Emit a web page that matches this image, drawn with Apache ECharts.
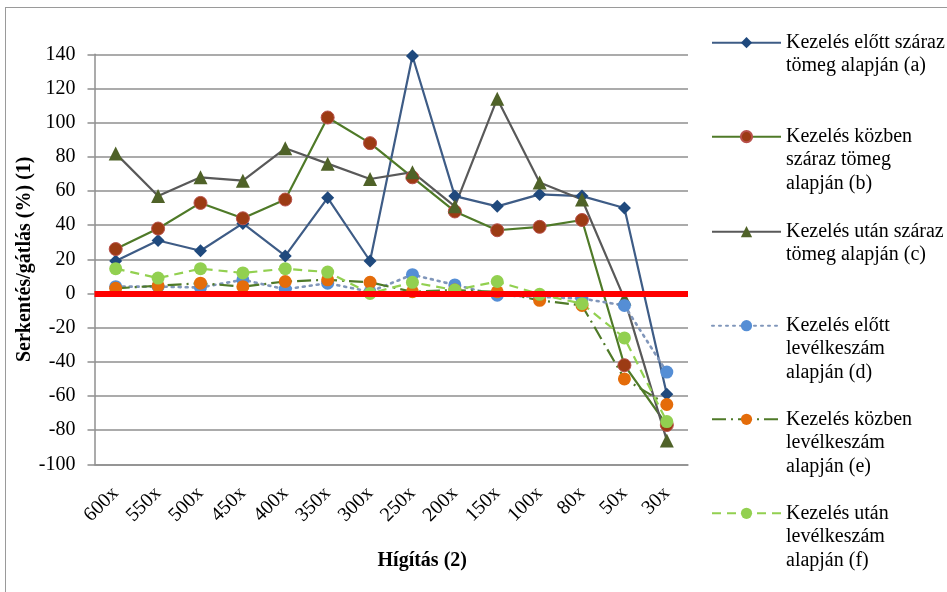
<!DOCTYPE html>
<html>
<head>
<meta charset="utf-8">
<script src="https://cdn.jsdelivr.net/npm/echarts@6/dist/echarts.min.js"></script>
<style>
html,body{margin:0;padding:0;background:#fff;}
#chart{width:947px;height:592px;position:relative;}
#frame{position:absolute;left:5px;top:7px;width:1000px;height:1000px;border-left:1.5px solid #9a9a9a;border-top:1.5px solid #9a9a9a;pointer-events:none;}
</style>
</head>
<body>
<div id="chart"></div>
<div id="frame"></div>
<script>
const categories = ['600x','550x','500x','450x','400x','350x','300x','250x','200x','150x','100x','80x','50x','30x'];
const seriesNames = [
  'Kezelés előtt száraz\ntömeg alapján (a)',
  'Kezelés közben\nszáraz tömeg\nalapján (b)',
  'Kezelés után száraz\ntömeg alapján (c)',
  'Kezelés előtt\nlevélkeszám\nalapján (d)',
  'Kezelés közben\nlevélkeszám\nalapján (e)',
  'Kezelés után\nlevélkeszám\nalapján (f)'
];
const valuesA = [19, 31, 25, 41, 22, 56, 19, 139, 57, 51, 58, 57, 50, -59];
const valuesB = [26, 38, 53, 44, 55, 103, 88, 68, 48, 37, 39, 43, -42, -77];
const valuesC = [82, 57, 68, 66, 85, 76, 67, 71, 51, 114, 65, 55, -3, -86];
const valuesD = [4, 4, 3.5, 8, 2.5, 6, 1, 11, 5, -1, -2, -3, -7, -46];
const valuesE = [3, 4.5, 6, 4, 7, 8, 6.5, 1, 2, 1, -4, -7, -50, -65];
const valuesF = [14.5, 9, 14.5, 12, 14.5, 12.5, 0, 6.5, 2, 7, -0.5, -6, -26, -75];
const yTicks = {min: -100, max: 140, interval: 20};

const FONT = "'Liberation Serif','Times New Roman',serif";
const chart = echarts.init(document.getElementById('chart'), null, {renderer: 'canvas'});

const legendCenters = [42.7, 136.7, 231.7, 325.7, 419.3, 513.3];
const LH = 23.5;
const legends = seriesNames.map((name, i) => {
  const nLines = name.split('\n').length;
  const blanks = nLines - 1;
  const total = nLines + blanks;
  return {
    data: [name],
    orient: 'vertical',
    left: 711,
    top: legendCenters[i] - total * LH / 2,
    padding: 0,
    itemWidth: 69,
    itemHeight: 14,
    selectedMode: false,
    formatter: n => '\n'.repeat(blanks) + n,
    textStyle: {fontFamily: FONT, fontSize: 20, color: '#000', lineHeight: LH}
  };
});

const option = {
  animation: false,
  backgroundColor: '#fff',
  textStyle: {fontFamily: FONT},
  legend: legends,
  grid: {left: 94.5, right: 259, top: 54.3, bottom: 127.7, containLabel: false},
  xAxis: {
    type: 'category',
    data: categories,
    boundaryGap: true,
    axisLine: {show: true, onZero: false, lineStyle: {color: '#8f8f8f', width: 1.5}},
    axisTick: {show: false},
    axisLabel: {rotate: 45, margin: 26, fontFamily: FONT, fontSize: 20, color: '#000'},
    name: 'Hígítás (2)',
    nameLocation: 'middle',
    nameGap: 87,
    nameMoveOverlap: false,
    nameTextStyle: {fontFamily: FONT, fontSize: 20, fontWeight: 'bold', color: '#000', padding: [0, 0, 0, 62]}
  },
  yAxis: {
    type: 'value',
    min: yTicks.min, max: yTicks.max, interval: yTicks.interval,
    axisLine: {show: true, lineStyle: {color: '#8f8f8f', width: 1.5}},
    axisTick: {show: true, length: 7, lineStyle: {color: '#8f8f8f', width: 1.5}},
    axisLabel: {margin: 19, fontFamily: FONT, fontSize: 20, color: '#000'},
    splitLine: {show: true, lineStyle: {color: '#8f8f8f', width: 1.5}},
    name: 'Serkentés/gátlás (%) (1)',
    nameLocation: 'middle',
    nameGap: 60,
    nameMoveOverlap: false,
    nameTextStyle: {fontFamily: FONT, fontSize: 20, fontWeight: 'bold', color: '#000'}
  },
  series: [
    {
      name: seriesNames[0], type: 'line', data: valuesA,
      symbol: 'diamond', symbolSize: 13,
      lineStyle: {color: '#3E5C86', width: 2.2},
      itemStyle: {color: '#1F497D'},
      markLine: {
        silent: true, symbol: 'none', label: {show: false},
        lineStyle: {color: '#FF0000', width: 6, type: 'solid'},
        data: [{yAxis: 0}]
      }
    },
    {
      name: seriesNames[1], type: 'line', data: valuesB,
      symbol: 'circle', symbolSize: 13,
      lineStyle: {color: '#4F7A28', width: 2.2},
      itemStyle: {color: '#9C3B14', borderColor: '#B8504A', borderWidth: 1}
    },
    {
      name: seriesNames[2], type: 'line', data: valuesC,
      symbol: 'triangle', symbolSize: 14,
      lineStyle: {color: '#595959', width: 2.2},
      itemStyle: {color: '#4F6228'}
    },
    {
      name: seriesNames[3], type: 'line', data: valuesD,
      symbol: 'circle', symbolSize: 13,
      lineStyle: {color: '#8096BA', width: 2.6, type: [2, 5], cap: 'round'},
      itemStyle: {color: '#558ED5'}
    },
    {
      name: seriesNames[4], type: 'line', data: valuesE,
      symbol: 'circle', symbolSize: 13,
      lineStyle: {color: '#4F7A28', width: 2.2, type: [14, 5, 2, 5]},
      itemStyle: {color: '#E46C0A'}
    },
    {
      name: seriesNames[5], type: 'line', data: valuesF,
      symbol: 'circle', symbolSize: 13,
      lineStyle: {color: '#92D050', width: 2.2, type: [9, 6]},
      itemStyle: {color: '#92D050'}
    }
  ]
};
chart.setOption(option);
</script>
</body>
</html>
